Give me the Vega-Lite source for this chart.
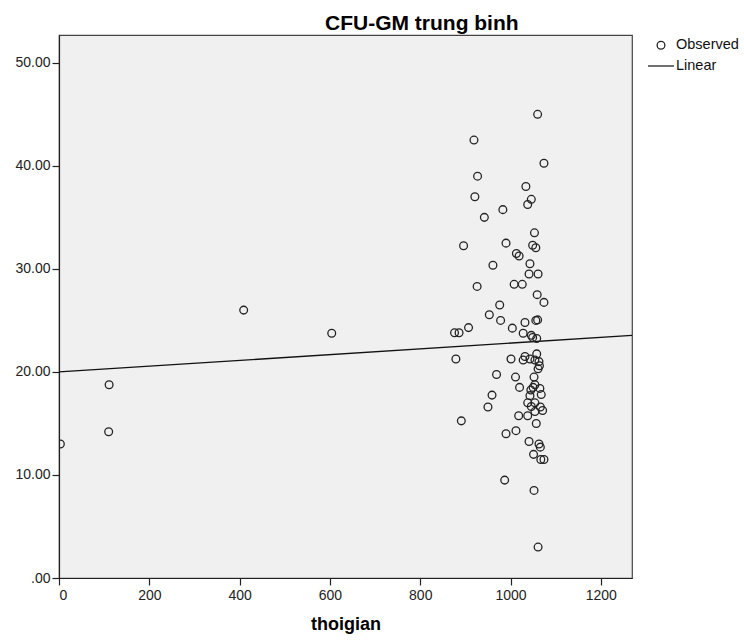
{
  "$schema": "https://vega.github.io/schema/vega-lite/v6.json",
  "width": 573,
  "height": 543,
  "autosize": {"type": "none"},
  "padding": {"left": 59, "top": 35, "right": 112, "bottom": 63},
  "background": "white",
  "title": {
    "text": "CFU-GM trung binh",
    "font": "Liberation Sans",
    "fontSize": 21,
    "fontWeight": "bold",
    "color": "#000",
    "anchor": "start",
    "frame": "group",
    "baseline": "alphabetic",
    "dx": 266,
    "dy": 20,
    "offset": 4
  },
  "datasets": {
    "observed": [
      {"thoigian": 3, "cfu": 13.0}, {"thoigian": 111, "cfu": 18.75}, {"thoigian": 110, "cfu": 14.2},
      {"thoigian": 409, "cfu": 26.0}, {"thoigian": 604, "cfu": 23.76},
      {"thoigian": 1060, "cfu": 45.0},
      {"thoigian": 919, "cfu": 42.5}, {"thoigian": 1074, "cfu": 40.25}, {"thoigian": 927, "cfu": 39.0},
      {"thoigian": 1034, "cfu": 38.0}, {"thoigian": 921, "cfu": 37.0}, {"thoigian": 1046, "cfu": 36.75},
      {"thoigian": 1038, "cfu": 36.25}, {"thoigian": 983, "cfu": 35.75}, {"thoigian": 942, "cfu": 35.0},
      {"thoigian": 1053, "cfu": 33.5}, {"thoigian": 896, "cfu": 32.25}, {"thoigian": 990, "cfu": 32.5},
      {"thoigian": 1049, "cfu": 32.3}, {"thoigian": 1056, "cfu": 32.05}, {"thoigian": 1013, "cfu": 31.5},
      {"thoigian": 1019, "cfu": 31.25}, {"thoigian": 961, "cfu": 30.35}, {"thoigian": 1043, "cfu": 30.5},
      {"thoigian": 1061, "cfu": 29.5}, {"thoigian": 1041, "cfu": 29.5}, {"thoigian": 926, "cfu": 28.3},
      {"thoigian": 1008, "cfu": 28.5}, {"thoigian": 1026, "cfu": 28.5}, {"thoigian": 1059, "cfu": 27.5},
      {"thoigian": 1074, "cfu": 26.75}, {"thoigian": 976, "cfu": 26.5}, {"thoigian": 953, "cfu": 25.55},
      {"thoigian": 978, "cfu": 25.0}, {"thoigian": 1032, "cfu": 24.8}, {"thoigian": 1056, "cfu": 25.0},
      {"thoigian": 1060, "cfu": 25.05}, {"thoigian": 907, "cfu": 24.3}, {"thoigian": 876, "cfu": 23.8},
      {"thoigian": 886, "cfu": 23.8}, {"thoigian": 1004, "cfu": 24.25}, {"thoigian": 1028, "cfu": 23.75},
      {"thoigian": 1046, "cfu": 23.55}, {"thoigian": 1049, "cfu": 23.35}, {"thoigian": 1058, "cfu": 23.25},
      {"thoigian": 879, "cfu": 21.25}, {"thoigian": 1001, "cfu": 21.25}, {"thoigian": 1032, "cfu": 21.5},
      {"thoigian": 1043, "cfu": 21.25}, {"thoigian": 1058, "cfu": 21.75}, {"thoigian": 1054, "cfu": 21.15},
      {"thoigian": 1063, "cfu": 21.0}, {"thoigian": 1064, "cfu": 20.6}, {"thoigian": 1061, "cfu": 20.3},
      {"thoigian": 1028, "cfu": 21.15}, {"thoigian": 969, "cfu": 19.75}, {"thoigian": 1011, "cfu": 19.5},
      {"thoigian": 1020, "cfu": 18.5}, {"thoigian": 1052, "cfu": 19.5}, {"thoigian": 1054, "cfu": 18.75},
      {"thoigian": 1050, "cfu": 18.5}, {"thoigian": 1045, "cfu": 18.25}, {"thoigian": 1065, "cfu": 18.4},
      {"thoigian": 959, "cfu": 17.75}, {"thoigian": 1068, "cfu": 17.8}, {"thoigian": 1043, "cfu": 17.7},
      {"thoigian": 950, "cfu": 16.6}, {"thoigian": 1038, "cfu": 17.0}, {"thoigian": 1054, "cfu": 17.0},
      {"thoigian": 1046, "cfu": 16.65}, {"thoigian": 1066, "cfu": 16.6},
      {"thoigian": 891, "cfu": 15.25}, {"thoigian": 1018, "cfu": 15.75}, {"thoigian": 1038, "cfu": 15.75},
      {"thoigian": 1054, "cfu": 16.15}, {"thoigian": 1071, "cfu": 16.25}, {"thoigian": 1057, "cfu": 15.0},
      {"thoigian": 990, "cfu": 14.0}, {"thoigian": 1012, "cfu": 14.3}, {"thoigian": 1041, "cfu": 13.25},
      {"thoigian": 1063, "cfu": 13.0}, {"thoigian": 1066, "cfu": 12.7}, {"thoigian": 1051, "cfu": 12.0},
      {"thoigian": 1067, "cfu": 11.5}, {"thoigian": 1074, "cfu": 11.5}, {"thoigian": 987, "cfu": 9.5},
      {"thoigian": 1052, "cfu": 8.5}, {"thoigian": 1061, "cfu": 3.0}
    ],
    "linear": [
      {"thoigian": 0, "cfu": 20.0},
      {"thoigian": 1269, "cfu": 23.55}
    ]
  },
  "encoding": {
    "x": {
      "field": "thoigian",
      "type": "quantitative",
      "title": "thoigian",
      "scale": {"domain": [0, 1269], "nice": false, "zero": false},
      "axis": {
        "values": [0, 200, 400, 600, 800, 1000, 1200],
        "format": "d",
        "grid": false,
        "tickSize": 7,
        "labelPadding": 3,
        "titlePadding": 13,
        "titleFontSize": 18,
        "titleFontWeight": "bold"
      }
    },
    "y": {
      "field": "cfu",
      "type": "quantitative",
      "title": null,
      "scale": {"domain": [0, 52.7], "nice": false, "zero": false},
      "axis": {
        "values": [0, 10, 20, 30, 40, 50],
        "labelExpr": "datum.value == 0 ? '.00' : format(datum.value, '.2f')",
        "grid": false,
        "tickSize": 7,
        "labelPadding": 2
      }
    }
  },
  "layer": [
    {
      "data": {"name": "linear"},
      "mark": {"type": "line", "color": "#111", "strokeWidth": 1.3, "clip": true},
      "encoding": {}
    },
    {
      "data": {"name": "observed"},
      "transform": [{"calculate": "'Observed'", "as": "series"}],
      "mark": {"type": "point", "filled": false, "color": "#222", "strokeWidth": 1.3, "opacity": 1, "clip": true},
      "encoding": {
        "shape": {
          "field": "series",
          "type": "nominal",
          "scale": {"domain": ["Observed", "Linear"], "range": ["circle", "stroke"]},
          "legend": {
            "title": null,
            "orient": "none",
            "legendX": 588,
            "legendY": 3,
            "symbolStrokeColor": "#111",
            "symbolFillColor": "transparent",
            "symbolStrokeWidth": 1.3,
            "labelFontSize": 14.5,
            "labelFont": "Liberation Sans",
            "labelColor": "#111",
            "labelOffset": 1,
            "rowPadding": 0
          }
        },
        "size": {
          "field": "series",
          "type": "nominal",
          "scale": {"domain": ["Observed", "Linear"], "range": [60, 676]},
          "legend": {
            "title": null,
            "orient": "none",
            "legendX": 588,
            "legendY": 3,
            "labelFontSize": 14.5,
            "labelOffset": 1,
            "rowPadding": 0
          }
        }
      }
    }
  ],
  "config": {
    "font": "Liberation Sans",
    "view": {"fill": "#f0f0f0", "stroke": "#444", "strokeWidth": 1.2},
    "axis": {
      "domainColor": "#222",
      "domainWidth": 1.2,
      "tickColor": "#222",
      "tickWidth": 1.2,
      "labelFont": "Liberation Sans",
      "labelFontSize": 14,
      "labelColor": "#222",
      "titleFont": "Liberation Sans",
      "titleColor": "#000"
    }
  }
}
